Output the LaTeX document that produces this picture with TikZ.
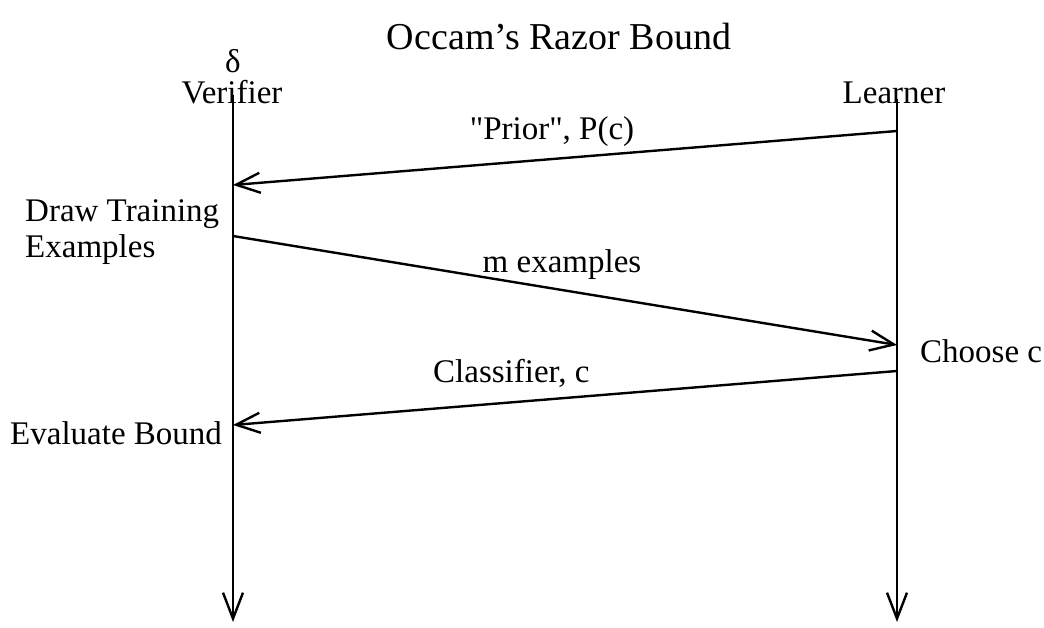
\documentclass[tikz,border=0pt]{standalone}
\usepackage{fontspec}
\setmainfont{Liberation Serif}
\newfontfamily\rawserif{Liberation Serif}
\usetikzlibrary{arrows.meta}
\begin{document}
\begin{tikzpicture}[x=1pt,y=-1pt,
  lbl/.style={inner sep=0pt,font=\fontsize{33}{38}\selectfont},
  ttl/.style={inner sep=0pt,font=\fontsize{38}{44}\selectfont},
  life/.style={line width=2.4pt,-{Straight Barb[length=26pt,width=20pt,line width=2.4pt]}},
  msg/.style={line width=2.4pt,-{Straight Barb[length=24pt,width=20pt,line width=2.4pt]}}]
\useasboundingbox (0,0) rectangle (1044,628);
\node[ttl,anchor=base] (title) at (559,50) {Occam’s Razor Bound};
\node[lbl,anchor=base] (delta) at (233,73) {δ};
\node[lbl,anchor=base] (ver) at (232,104) {Verifier};
\node[lbl,anchor=base] (lea) at (894,104) {Learner};
\coordinate (vtop) at (233,95);
\coordinate (vbot) at (233,622);
\coordinate (ltop) at (897,99);
\coordinate (lbot) at (897,622);
\draw[life] (vtop) -- (vbot);
\draw[life] (ltop) -- (lbot);
\coordinate (a1s) at (897,131);
\coordinate (a1e) at (233,185);
\coordinate (a2s) at (233,236);
\coordinate (a2e) at (897,345);
\coordinate (a3s) at (897,371);
\coordinate (a3e) at (233,425);
\draw[msg] (a1s) -- (a1e);
\draw[msg] (a2s) -- (a2e);
\draw[msg] (a3s) -- (a3e);
\node[lbl,anchor=base] (l1) at (552,140) {\rawserif "Prior", P(c)};
\node[lbl,anchor=base] (l2) at (562,273) {m examples};
\node[lbl,anchor=base west] (l3) at (433,382) {Classifier, c};
\node[lbl,anchor=base west] (d1) at (25,222) {Draw Training};
\node[lbl,anchor=base west] (d2) at (25,258) {Examples};
\node[lbl,anchor=base west] (cc) at (920,362) {Choose c};
\node[lbl,anchor=base west] (eb) at (10,444) {Evaluate Bound};
\end{tikzpicture}
\end{document}
